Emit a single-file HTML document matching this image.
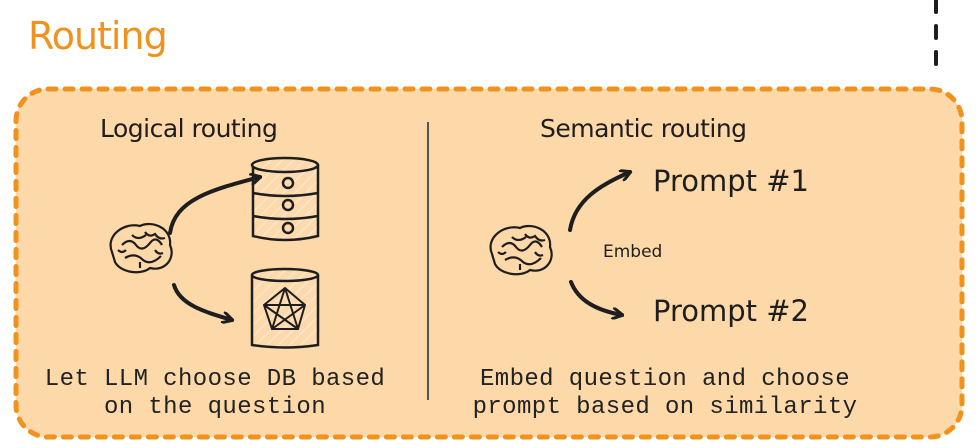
<!DOCTYPE html>
<html><head><meta charset="utf-8"><style>
body{margin:0;width:978px;height:448px;background:#fff;overflow:hidden;position:relative;font-family:"Liberation Sans",sans-serif}
.t{position:absolute;white-space:nowrap;color:#1e1e1e}
.m{font-family:"Liberation Mono",monospace;font-size:24px;letter-spacing:0.4px;text-align:center;color:#222}
</style></head><body>
<svg width="978" height="448" style="position:absolute;left:0;top:0">
<defs>
<pattern id="h" width="8" height="8" patternUnits="userSpaceOnUse" patternTransform="rotate(45)">
<rect width="8" height="8" fill="#fdd9ab"/><line x1="0" y1="0" x2="0" y2="8" stroke="#fbe6cc" stroke-width="3"/></pattern>
<marker id="a" markerWidth="12" markerHeight="12" refX="10" refY="6" orient="auto" markerUnits="userSpaceOnUse"><path d="M0,0 L11,6 L0,12" fill="none" stroke="#1e1e1e" stroke-width="3"/></marker>
</defs>
<line x1="936" y1="0" x2="936" y2="70" stroke="#1e1e1e" stroke-width="4" stroke-dasharray="12,14" stroke-linecap="round"/>
<rect x="16" y="89" width="946" height="348" rx="32" fill="#fdd8a8" stroke="#f0921e" stroke-width="5" stroke-dasharray="8,9" stroke-linecap="round"/>
<line x1="428" y1="122" x2="428" y2="400" stroke="#555" stroke-width="2"/>
<g fill="none" stroke="#1e1e1e" stroke-width="2.2">
<path d="M112,252 C105,235 125,222 140,226 C152,220 172,228 170,245 C176,258 165,272 150,268 C140,276 120,272 115,262 Z"/>
<path d="M122,245 q8,-8 14,0 q6,8 14,-2 q6,-8 12,2 M125,258 q10,-6 18,2 q8,6 18,-4 M132,235 q6,6 14,0 M118,250 q4,4 8,0 M145,232 q4,6 10,2 q4,6 10,4 M140,262 v6 M155,250 q3,5 8,3"/>
<path d="M492,254 C485,237 505,224 520,228 C532,222 552,230 550,247 C556,260 545,274 530,270 C520,278 500,274 495,264 Z"/>
<path d="M502,247 q8,-8 14,0 q6,8 14,-2 q6,-8 12,2 M505,260 q10,-6 18,2 q8,6 18,-4 M512,237 q6,6 14,0 M498,252 q4,4 8,0 M525,234 q4,6 10,2 q4,6 10,4 M520,264 v6 M535,252 q3,5 8,3"/>
</g>
<g stroke="#1e1e1e" stroke-width="2.5" fill="url(#h)">
<path d="M253,165 L253,236 Q285,244 318,236 L318,165"/>
<ellipse cx="285" cy="165" rx="33" ry="7"/>
<path d="M253,193 Q285,199 318,193 M253,216 Q285,222 318,216" fill="none"/>
<circle cx="288" cy="183" r="5" fill="none"/><circle cx="288" cy="205" r="5" fill="none"/><circle cx="288" cy="228" r="5" fill="none"/>
<path d="M252,275 L252,345 Q285,350 318,345 L318,275"/>
<ellipse cx="285" cy="275" rx="33" ry="6"/>
</g>
<g stroke="#1e1e1e" stroke-width="2" fill="none">
<path d="M285,288 L305,305 L298,329 L272,329 L264,305 Z M285,288 L298,329 M285,288 L272,329 M264,305 L305,305 M264,305 L298,329 M305,305 L272,329"/>
</g>
<g fill="none" stroke="#1e1e1e" stroke-width="4" stroke-linecap="round">
<path d="M170,233 C175,200 210,190 260,177" marker-end="url(#a)"/>
<path d="M174,285 C180,305 205,312 232,320" marker-end="url(#a)"/>
<path d="M570,230 C575,200 600,185 630,172" marker-end="url(#a)"/>
<path d="M571,282 C578,300 595,310 622,315" marker-end="url(#a)"/>
</g>
</svg>
<div class="t" style="left:28px;top:14px;font-size:38px;color:#f0921e;font-family:'DejaVu Sans',sans-serif;letter-spacing:-1px">Routing</div>
<div class="t" style="left:100px;top:114px;font-size:25px;font-family:'DejaVu Sans',sans-serif;letter-spacing:-0.5px">Logical routing</div>
<div class="t" style="left:540px;top:114px;font-size:25px;font-family:'DejaVu Sans',sans-serif;letter-spacing:-0.5px">Semantic routing</div>
<div class="t" style="left:653px;top:164px;font-size:29px;font-family:'DejaVu Sans',sans-serif">Prompt #1</div>
<div class="t" style="left:653px;top:294px;font-size:29px;font-family:'DejaVu Sans',sans-serif">Prompt #2</div>
<div class="t" style="left:603px;top:242px;font-size:17px;font-family:'DejaVu Sans',sans-serif">Embed</div>
<div class="t m" style="left:30px;width:370px;top:366px;line-height:28px">Let LLM choose DB based<br>on the question</div>
<div class="t m" style="left:460px;width:410px;top:366px;line-height:28px">Embed question and choose<br>prompt based on similarity</div>
</body></html>
